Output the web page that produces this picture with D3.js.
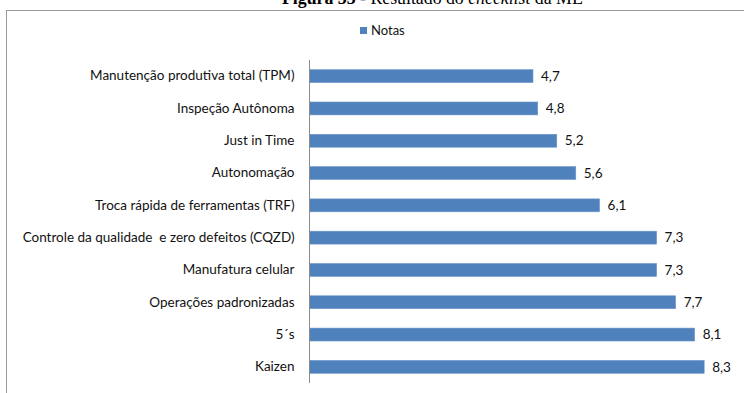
<!DOCTYPE html>
<html>
<head>
<meta charset="utf-8">
<script src="https://cdn.jsdelivr.net/npm/d3@7/dist/d3.min.js"></script>
<style>
  html, body { margin: 0; padding: 0; background: #fff; }
  svg { display: block; }
</style>
</head>
<body>
<svg id="chart" width="744" height="393"></svg>
<script>
// Checklist results per lean-manufacturing practice
const categories = [
  "Manutenção produtiva total (TPM)",
  "Inspeção Autônoma",
  "Just in Time",
  "Autonomação",
  "Troca rápida de ferramentas (TRF)",
  "Controle da qualidade  e zero defeitos (CQZD)",
  "Manufatura celular",
  "Operações padronizadas",
  "5´s",
  "Kaizen"
];
const notas = [4.7, 4.8, 5.2, 5.6, 6.1, 7.3, 7.3, 7.7, 8.1, 8.3];
const seriesName = "Notas";
const xDomain = [0, 9];

const svg = d3.select("#chart");
const W = 744, H = 393;
const barColor = "#4f81bd";
const labelFont = "Lato, 'Open Sans', sans-serif";

// Caption above the frame (partly cut off at the top edge)
const cap = svg.append("text")
  .attr("x", 282).attr("y", 4)
  .attr("font-family", "'Liberation Serif', 'DejaVu Serif', serif")
  .attr("font-size", 17.8)
  .attr("fill", "#000");
cap.append("tspan").attr("font-weight", "bold").text("Figura 33");
cap.append("tspan").text(" - Resultado do ");
cap.append("tspan").attr("font-style", "italic").text("checklist");
cap.append("tspan").text(" da ME");

// Chart frame
svg.append("rect")
  .attr("x", 6.5).attr("y", 10.5)
  .attr("width", W + 20).attr("height", H + 20)
  .attr("fill", "none")
  .attr("stroke", "#9a9a9a")
  .attr("stroke-width", 1);

// Scales
const x = d3.scaleLinear().domain(xDomain).range([309.5, 309.5 + 9 * 47.55]);
const y = d3.scaleBand().domain(categories).range([60, 383]).paddingInner(0.6).paddingOuter(0.3);

// Bars
svg.append("g").selectAll("rect")
  .data(categories)
  .join("rect")
  .attr("x", x(0))
  .attr("y", d => y(d))
  .attr("width", (d, i) => x(notas[i]) - x(0))
  .attr("height", y.bandwidth())
  .attr("fill", barColor)
  .attr("stroke", "#6f97c9")
  .attr("stroke-width", 0.6);

// Category axis
const yAxis = svg.append("g")
  .attr("transform", `translate(${x(0)},0)`)
  .call(d3.axisLeft(y).tickSize(0).tickPadding(15));
yAxis.select(".domain").attr("stroke", "#8c8c8c").attr("d", "M0,60V383");
yAxis.selectAll("text")
  .attr("font-family", labelFont)
  .attr("font-size", 13.5)
  .attr("fill", "#111")
  .style("white-space", "pre");

// Value labels
svg.append("g").selectAll("text")
  .data(categories)
  .join("text")
  .attr("x", (d, i) => x(notas[i]) + 8)
  .attr("y", d => y(d) + y.bandwidth() / 2)
  .attr("dy", "0.35em")
  .attr("font-family", labelFont)
  .attr("font-size", 13.5)
  .attr("fill", "#111")
  .text((d, i) => d3.format(".1f")(notas[i]).replace(".", ","));

// Legend
const lg = svg.append("g").attr("transform", "translate(360,27)");
lg.append("rect").attr("width", 7).attr("height", 7).attr("fill", barColor);
lg.append("text")
  .attr("x", 11).attr("y", 3.5).attr("dy", "0.35em")
  .attr("font-family", labelFont)
  .attr("font-size", 13)
  .attr("fill", "#111")
  .text(seriesName);
</script>
</body>
</html>
